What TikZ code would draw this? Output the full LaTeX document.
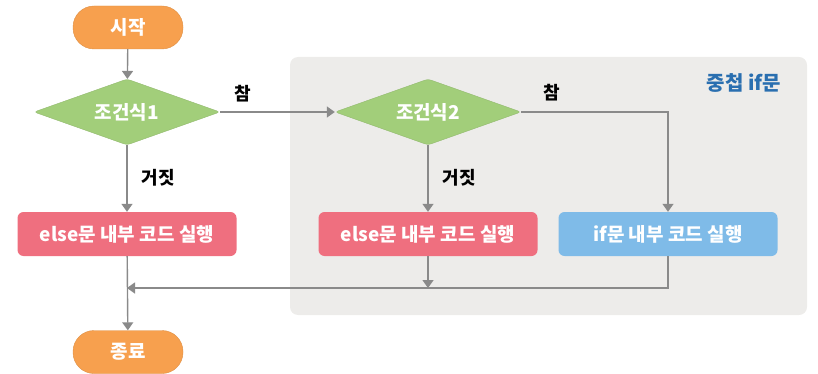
\documentclass[tikz,border=0pt]{standalone}
\usepackage{fontspec}
\setmainfont{Noto Sans CJK KR}
\usetikzlibrary{shapes.geometric,arrows.meta}
\definecolor{cOrange}{HTML}{F7A04E}
\definecolor{cGreen}{HTML}{A2CE7A}
\definecolor{cPink}{HTML}{EF6F7F}
\definecolor{cBlue}{HTML}{7FBBE8}
\definecolor{cBg}{HTML}{EDECEA}
\definecolor{cLine}{HTML}{8A8A8A}
\definecolor{cTitle}{HTML}{2A6FB0}
\tikzset{
  pill/.style={fill=cOrange, draw=cOrange!90!black, line width=0.4pt, rounded corners=21pt, minimum width=110pt, minimum height=43pt, text=white, font=\fontsize{19}{22}\selectfont\bfseries, inner sep=0pt},
  cond/.style={diamond, shape aspect=2.8, fill=cGreen, draw=cGreen!90!black, line width=0.4pt, rounded corners=3pt, minimum width=186pt, minimum height=66pt, inner sep=0pt, text=white, font=\fontsize{19}{22}\selectfont\bfseries},
  codebox/.style={rounded corners=6pt, minimum width=219pt, minimum height=44pt, inner sep=0pt, text=white, font=\fontsize{19}{22}\selectfont\bfseries},
  lbl/.style={text=black, font=\fontsize{18}{21}\selectfont\bfseries, inner sep=0pt},
  flow/.style={draw=cLine, line width=1.4pt, -{Triangle[length=8pt,width=11pt]}},
}
\begin{document}
\begin{tikzpicture}[x=1pt,y=-1pt]
\useasboundingbox (0,0) rectangle (818,374);
\fill[cBg, rounded corners=8pt] (290,57) rectangle (807,315);
\node[text=cTitle, font=\fontsize{20}{23}\selectfont\bfseries, inner sep=0pt] (title) at (744,83) {중첩 if문};

\node[pill] (start) at (128,27.5) {시작};
\node[cond] (c1) at (127,112) {조건식1};
\node[cond] (c2) at (428,112) {조건식2};
\node[codebox, fill=cPink] (e1) at (127,234) {else문 내부 코드 실행};
\node[codebox, fill=cPink] (e2) at (428,234) {else문 내부 코드 실행};
\node[codebox, fill=cBlue] (i2) at (668,234) {if문 내부 코드 실행};
\node[pill] (end) at (128,352) {종료};

\node[lbl] (t1) at (243,94) {참};
\node[lbl] (t2) at (552,93) {참};
\node[lbl] (f1) at (158,178) {거짓};
\node[lbl] (f2) at (459,178) {거짓};

\coordinate (corner) at (668,112);
\coordinate (mergeR) at (668,288);
\coordinate (mergeL) at (127,288);
\coordinate (e2bot) at (428,288);

\draw[flow] (start) -- (c1);
\draw[flow] (c1) -- (c2);
\draw[flow] (c1) -- (e1);
\draw[flow] (c2) -- (e2);
\draw[flow] (c2.east) -- (corner) -- (i2);
\draw[flow] (e2) -- (e2bot);
\draw[flow] (i2.south) -- (mergeR) -- (mergeL);
\draw[flow] (e1) -- (end);
\end{tikzpicture}
\end{document}
